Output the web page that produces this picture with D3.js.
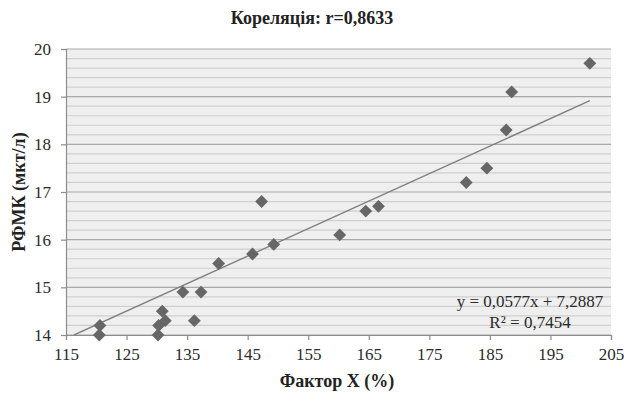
<!DOCTYPE html>
<html>
<head>
<meta charset="utf-8">
<script src="https://cdn.jsdelivr.net/npm/d3@7"></script>
<style>
  body { margin: 0; background: #fff; }
  text { font-family: "Liberation Serif", "Times New Roman", serif; }
</style>
</head>
<body>
<script>
// data
var factorX = [120.5, 120.6, 130.2, 130.3, 130.9, 131.4, 134.3, 136.2, 137.3, 140.2,
               145.8, 147.3, 149.3, 160.2, 164.5, 166.6, 181.1, 184.5, 187.7, 188.6, 201.5];
var rfmk    = [14.0, 14.2, 14.0, 14.2, 14.5, 14.3, 14.9, 14.3, 14.9, 15.5,
               15.7, 16.8, 15.9, 16.1, 16.6, 16.7, 17.2, 17.5, 18.3, 19.1, 19.7];
var xTicks = [115, 125, 135, 145, 155, 165, 175, 185, 195, 205];
var yTicks = [14, 15, 16, 17, 18, 19, 20];
var slope = 0.0577, intercept = 7.2887;
var titleText = "Кореляція: r=0,8633";
var eqLines = ["y = 0,0577x + 7,2887", "R² = 0,7454"];

var width = 624, height = 401;
var m = {left: 66, right: 13, top: 49, bottom: 66};

var svg = d3.select("body").append("svg")
  .attr("width", width)
  .attr("height", height);

var x = d3.scaleLinear().domain([115, 205]).range([m.left, width - m.right]);
var y = d3.scaleLinear().domain([14, 20]).range([height - m.bottom, m.top]);

// plot background
svg.append("rect")
  .attr("x", x(115)).attr("y", y(20))
  .attr("width", x(205) - x(115)).attr("height", y(14) - y(20))
  .attr("fill", "#efefef");

// minor grid every 0.2
var minor = d3.range(14, 20.001, 0.2).filter(function(v) { return Math.abs(v - Math.round(v)) > 0.01; });
svg.selectAll("line.minor").data(minor).enter().append("line")
  .attr("class", "minor")
  .attr("x1", x(115)).attr("x2", x(205))
  .attr("y1", function(d) { return y(d); })
  .attr("y2", function(d) { return y(d); })
  .attr("stroke", "#cfcfcf").attr("stroke-width", 1.2);

// major grid
svg.selectAll("line.major").data(yTicks).enter().append("line")
  .attr("class", "major")
  .attr("x1", x(115)).attr("x2", x(205))
  .attr("y1", function(d) { return y(d); })
  .attr("y2", function(d) { return y(d); })
  .attr("stroke", "#a9a9a9").attr("stroke-width", 1.2);

// axes
var xAxis = d3.axisBottom(x).tickValues(xTicks).tickFormat(d3.format("d")).tickSize(5).tickPadding(8);
var gx = svg.append("g").attr("transform", "translate(0," + y(14) + ")").call(xAxis);
var yAxis = d3.axisLeft(y).tickValues(yTicks).tickFormat(d3.format("d")).tickSize(5).tickPadding(10);
var gy = svg.append("g").attr("transform", "translate(" + x(115) + ",0)").call(yAxis);
[gx, gy].forEach(function(g) {
  g.select(".domain").attr("stroke", "#8c8c8c").attr("stroke-width", 1.2);
  g.selectAll(".tick line").attr("stroke", "#8c8c8c").attr("stroke-width", 1.2);
  g.selectAll(".tick text")
    .attr("fill", "#2a2a2a")
    .style("font-size", "17px")
    .style("font-family", "'Liberation Serif', serif");
});

// trend line, clipped to the plot area
svg.append("clipPath").attr("id", "plotclip").append("rect")
  .attr("x", x(115)).attr("y", y(20))
  .attr("width", x(205) - x(115)).attr("height", y(14) - y(20));
var xStart = (14 - intercept) / slope;
svg.append("line")
  .attr("clip-path", "url(#plotclip)")
  .attr("x1", x(xStart)).attr("y1", y(slope * xStart + intercept))
  .attr("x2", x(d3.max(factorX))).attr("y2", y(slope * d3.max(factorX) + intercept))
  .attr("stroke", "#808080").attr("stroke-width", 1.4);

// points (diamonds)
var diamond = d3.symbol().type(d3.symbolDiamond2).size(105);
svg.selectAll("path.pt").data(factorX).enter().append("path")
  .attr("class", "pt")
  .attr("d", diamond)
  .attr("transform", function(d, i) { return "translate(" + x(d) + "," + y(rfmk[i]) + ")"; })
  .attr("fill", "#666666");

// equation
svg.selectAll("text.eq").data(eqLines).enter().append("text")
  .attr("class", "eq")
  .attr("x", 530)
  .attr("y", function(d, i) { return 307 + i * 21; })
  .attr("text-anchor", "middle")
  .attr("fill", "#2a2a2a")
  .style("font-size", "17px")
  .text(function(d) { return d; });

// titles
svg.append("text")
  .attr("x", 312).attr("y", 24)
  .attr("text-anchor", "middle")
  .style("font-size", "18px").style("font-weight", "bold")
  .attr("fill", "#222")
  .text(titleText);

svg.append("text")
  .attr("transform", "translate(25," + ((y(14) + y(20)) / 2) + ") rotate(-90)")
  .attr("text-anchor", "middle")
  .style("font-size", "18px").style("font-weight", "bold")
  .attr("fill", "#222")
  .text("РФМК (мкт/л)");

svg.append("text")
  .attr("x", 337).attr("y", 387)
  .attr("text-anchor", "middle")
  .style("font-size", "18px").style("font-weight", "bold")
  .attr("fill", "#222")
  .text("Фактор X (%)");
</script>
</body>
</html>
